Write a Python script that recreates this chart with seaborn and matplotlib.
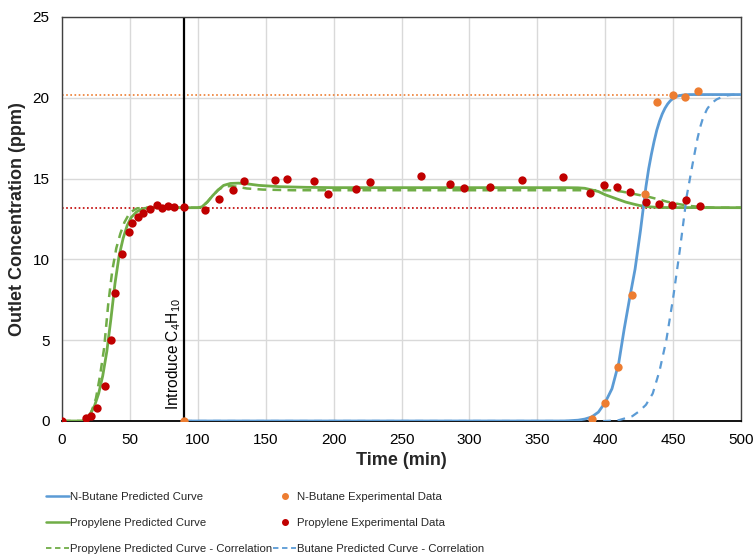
import matplotlib
matplotlib.use("Agg")
import matplotlib.pyplot as plt
from matplotlib.lines import Line2D
import seaborn as sns
import pandas as pd

# Experimental data (time in min, outlet concentration in ppm)
propylene_exp_t = [0, 17.4, 21.4, 25.5, 31.7, 35.8, 39.3, 44.2, 49.1, 51.8, 55.7, 59.9,
                   64.5, 70, 73.4, 78, 82.2, 90, 105.3, 115.8, 126.2, 134.3, 156.6, 165.7,
                   185.3, 195.9, 216.3, 226.6, 264.1, 286, 295.8, 315.2, 338.7, 368.7,
                   388.6, 399.1, 408.7, 418.5, 430, 439.4, 448.9, 459.5, 470]
propylene_exp_c = [0, 0.16, 0.3, 0.78, 2.18, 5.0, 7.94, 10.33, 11.7, 12.23, 12.64, 12.85,
                   13.12, 13.37, 13.16, 13.3, 13.24, 13.26, 13.06, 13.74, 14.3, 14.87, 14.91, 14.98,
                   14.83, 14.05, 14.36, 14.81, 15.18, 14.69, 14.42, 14.46, 14.89, 15.08,
                   14.11, 14.6, 14.48, 14.19, 13.53, 13.41, 13.37, 13.68, 13.3]

butane_exp_t = [90, 390.3, 399.6, 409.4, 419.7, 429, 438.4, 449.7, 458.5, 468.1]
butane_exp_c = [0, 0.12, 1.13, 3.34, 7.78, 14.05, 19.74, 20.19, 20.05, 20.42]

# Model curves
butane_pred_t = [90, 370, 380, 385, 390, 395, 400, 405, 410, 414, 418, 422, 426, 430,
                 432, 434, 436, 438, 440, 442, 444, 446, 448, 450, 453, 457, 462, 500]
butane_pred_c = [0, 0, 0.05, 0.12, 0.25, 0.55, 1.15, 2.0, 3.6, 5.7, 7.6, 9.4, 11.8, 14.5,
                 15.6, 16.5, 17.3, 18.0, 18.55, 19.0, 19.35, 19.62, 19.82, 19.96, 20.1,
                 20.17, 20.2, 20.2]

butane_corr_t = [90, 400, 410, 420, 425, 430, 435, 440, 445, 450, 455, 460, 465, 468,
                 470, 472, 475, 478, 482, 486, 490, 495, 500]
butane_corr_c = [0, 0, 0.05, 0.3, 0.6, 1.0, 1.7, 3.1, 5.0, 7.6, 10.6, 13.9, 16.2, 17.5,
                 18.2, 18.75, 19.3, 19.65, 19.9, 20.05, 20.15, 20.2, 20.2]

propylene_pred_t = [0, 15, 18, 21, 24, 27, 30, 33, 36, 39, 42, 45, 48, 51, 55, 60, 65, 90,
                    100, 103, 107, 111, 115, 119, 124, 130, 136, 145, 160, 180, 200, 370,
                    380, 385, 390, 395, 400, 405, 410, 415, 420, 425, 430, 440, 500]
propylene_pred_c = [0, 0, 0.08, 0.45, 0.95, 1.7, 2.8, 4.3, 6.3, 8.5, 10.2, 11.3, 12.1, 12.6,
                    12.95, 13.15, 13.2, 13.2, 13.2, 13.25, 13.55, 13.95, 14.3, 14.58, 14.7,
                    14.72, 14.68, 14.58, 14.5, 14.46, 14.44, 14.44, 14.43, 14.4, 14.3, 14.2,
                    14.0, 13.85, 13.7, 13.55, 13.44, 13.34, 13.27, 13.21, 13.2]

propylene_corr_t = [0, 15, 20, 22, 25, 28, 31, 34, 37, 40, 43, 46, 50, 55, 60, 90, 100,
                    103, 107, 111, 115, 119, 124, 129, 136, 148, 170, 400, 405, 412, 420,
                    427, 433, 440, 446, 455, 462, 470, 480, 500]
propylene_corr_c = [0, 0, 0.3, 0.65, 1.4, 2.8, 4.5, 7.2, 9.3, 10.7, 11.6, 12.3, 12.9, 13.15,
                    13.2, 13.2, 13.2, 13.25, 13.55, 13.95, 14.3, 14.5, 14.54, 14.5, 14.39,
                    14.32, 14.28, 14.28, 14.27, 14.2, 14.07, 13.95, 13.85, 13.7, 13.56, 13.41,
                    13.31, 13.25, 13.2, 13.2]

# Reference levels and injection time
propylene_feed = 13.2
butane_feed = 20.2
butane_start = 90

x_ticks = list(range(0, 501, 50))
y_ticks = list(range(0, 26, 5))

BLUE = "#5B9BD5"
ORANGE = "#ED7D31"
GREEN = "#70AD47"
RED = "#C00000"

sns.set_theme(style="whitegrid")
plt.rcParams["font.family"] = ["Liberation Sans", "DejaVu Sans"]
plt.rcParams["mathtext.fontset"] = "custom"
plt.rcParams["mathtext.rm"] = "Liberation Sans"
plt.rcParams["mathtext.it"] = "Liberation Sans:italic"

fig = plt.figure(figsize=(7.54, 5.56), dpi=100)
ax = fig.add_axes([62 / 754, 1 - 421 / 556, 679 / 754, 404 / 556])

# Feed concentration reference lines
ax.axhline(propylene_feed, color=RED, ls=(0, (1, 1.5)), lw=1.2, zorder=1)
ax.axhline(butane_feed, color=ORANGE, ls=(0, (1, 1.5)), lw=1.2, zorder=1)

# Butane injection marker
ax.axvline(butane_start, color="black", lw=1.6, zorder=2)
ax.text(82.5, 0.65, r"Introduce C$_\mathrm{4}$H$_\mathrm{10}$", rotation=90, ha="center",
        va="bottom", fontsize=11.2, color="black")


def curve(t, c):
    return pd.DataFrame({"t": t, "c": c})


sns.lineplot(data=curve(propylene_pred_t, propylene_pred_c), x="t", y="c", ax=ax,
             color=GREEN, lw=2.0, sort=False, estimator=None, zorder=3)
sns.lineplot(data=curve(propylene_corr_t, propylene_corr_c), x="t", y="c", ax=ax,
             color=GREEN, lw=1.8, sort=False, estimator=None, zorder=3,
             linestyle=(0, (3.5, 2.5)))
sns.lineplot(data=curve(butane_pred_t, butane_pred_c), x="t", y="c", ax=ax,
             color=BLUE, lw=2.0, sort=False, estimator=None, zorder=3)
sns.lineplot(data=curve(butane_corr_t, butane_corr_c), x="t", y="c", ax=ax,
             color=BLUE, lw=1.6, sort=False, estimator=None, zorder=3,
             linestyle=(0, (3.5, 3)))

sns.scatterplot(data=curve(propylene_exp_t, propylene_exp_c), x="t", y="c", ax=ax,
                color=RED, s=36, linewidth=0, zorder=4)
sns.scatterplot(data=curve(butane_exp_t, butane_exp_c), x="t", y="c", ax=ax,
                color=ORANGE, s=36, linewidth=0, zorder=5)

ax.set_xlim(0, 500)
ax.set_ylim(0, 25)
ax.set_xticks(x_ticks)
ax.set_yticks(y_ticks)
ax.tick_params(axis="both", length=0, labelsize=11, colors="black", pad=9)
ax.grid(True, color="#D9D9D9", lw=1)
for side in ["left", "top", "right"]:
    ax.spines[side].set_color("#404040")
    ax.spines[side].set_linewidth(1.0)
ax.spines["bottom"].set_color("black")
ax.spines["bottom"].set_linewidth(1.3)

ax.set_xlabel("Time (min)", fontsize=13, fontweight="bold", labelpad=3)
ax.set_ylabel("Outlet Concentration (ppm)", fontsize=13, fontweight="bold", labelpad=5)

handles = [
    Line2D([], [], color=BLUE, lw=1.8),
    Line2D([], [], color=GREEN, lw=1.8),
    Line2D([], [], color=GREEN, lw=1.3, ls=(0, (3, 2))),
    Line2D([], [], color=ORANGE, marker="o", ls="none", markersize=4),
    Line2D([], [], color=RED, marker="o", ls="none", markersize=4),
    Line2D([], [], color=BLUE, lw=1.3, ls=(0, (3, 2))),
]
labels = [
    "N-Butane Predicted Curve",
    "Propylene Predicted Curve",
    "Propylene Predicted Curve - Correlation",
    "N-Butane Experimental Data",
    "Propylene Experimental Data",
    "Butane Predicted Curve - Correlation",
]
fig.legend(handles, labels, ncol=2, loc="center left", bbox_to_anchor=(36 / 754, 1 - 523 / 556),
           frameon=False, handlelength=2.0, handletextpad=0.1, columnspacing=0.1,
           labelspacing=1.38, prop={"size": 8.2})

fig.savefig("out.png", dpi=100)
